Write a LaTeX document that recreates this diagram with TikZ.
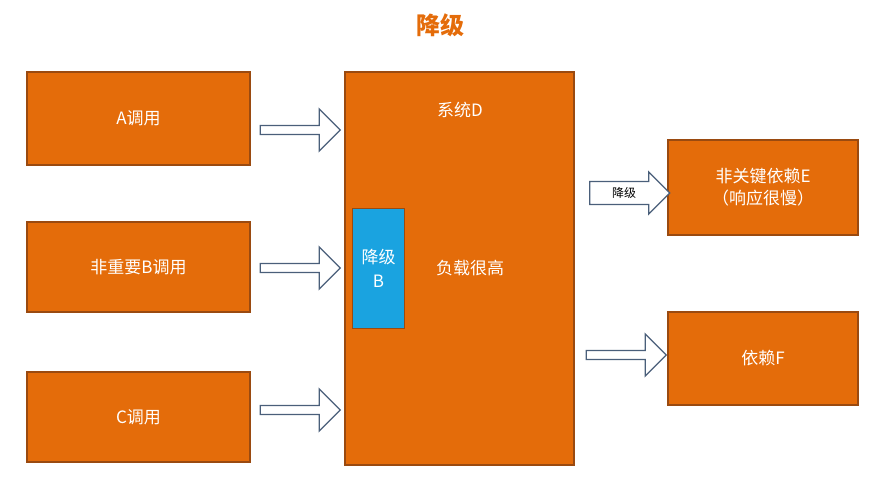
\documentclass[tikz,border=0pt]{standalone}
\usepackage{fontspec}
\newfontfamily\cjk{Noto Sans CJK SC}
\usetikzlibrary{shapes.arrows}
\definecolor{org}{HTML}{E46C0A}
\definecolor{bord}{HTML}{9A4A10}
\definecolor{blu}{HTML}{1AA3E0}
\definecolor{arr}{HTML}{4A5F7A}
\begin{document}
\begin{tikzpicture}[x=1pt,y=-1pt,
 box/.style={draw=bord,line width=1.2pt,fill=org,text=white,font=\cjk\fontsize{17}{22}\selectfont,align=center,inner sep=0},
 barrow/.style={single arrow,draw=arr,line width=1.3pt,fill=white,minimum width=42pt,single arrow head extend=6pt,single arrow tip angle=90,minimum height=80pt,inner sep=1pt,font=\cjk\fontsize{12}{14}\selectfont}]
\useasboundingbox (0,0) rectangle (881,483);
\node[text=org,font=\cjk\bfseries\fontsize{24}{28}\selectfont] (t) at (440,25) {降级};
\node[box,minimum width=223pt,minimum height=93pt] (a) at (138.5,118.5) {A调用};
\node[box,minimum width=223pt,minimum height=90pt] (b) at (138.5,267) {非重要B调用};
\node[box,minimum width=223pt,minimum height=90pt] (c) at (138.5,417) {C调用};
\node[box,minimum width=229pt,minimum height=393pt] (d) at (459.5,268.5) {};
\node[text=white,font=\cjk\fontsize{17}{22}\selectfont] (dl) at (460,110) {系统D};
\node[text=white,font=\cjk\fontsize{17}{22}\selectfont] (hl) at (470,268) {负载很高};
\node[draw=bord,line width=0.8pt,fill=blu,text=white,font=\cjk\fontsize{17}{24}\selectfont,align=center,minimum width=52pt,minimum height=120pt] (bb) at (378.5,268) {降级\\B};
\node[box,minimum width=190pt,minimum height=95pt] (e) at (763,187.5) {非关键依赖E\\（响应很慢）};
\node[box,minimum width=190pt,minimum height=93pt] (f) at (763,358.5) {依赖F};
\node[barrow] (a1) at (298,130) {};
\node[barrow] (a2) at (298,268) {};
\node[barrow] (a3) at (298,410) {};
\node[barrow] (a4) at (624,193) {降级\hspace{14pt}};
\node[barrow] (a5) at (624,355) {};
\end{tikzpicture}
\end{document}
